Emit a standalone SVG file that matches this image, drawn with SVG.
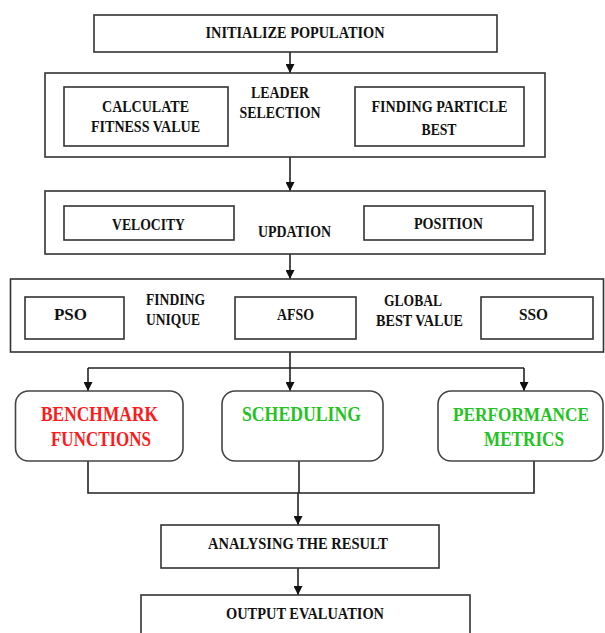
<svg xmlns="http://www.w3.org/2000/svg" width="605" height="633" viewBox="0 0 605 633">
<style>
.box{fill:#fff;stroke:#333;stroke-width:1.6}
.rbox{fill:#fff;stroke:#444;stroke-width:1.6}
.t{font-family:"Liberation Serif","Times New Roman",serif;font-weight:bold;font-size:16px;fill:#111;text-anchor:middle}
.ts{font-family:"Liberation Serif","Times New Roman",serif;font-weight:bold;font-size:16px;fill:#111;text-anchor:start}
.red{font-family:"Liberation Serif","Times New Roman",serif;font-weight:bold;font-size:20px;fill:#ff1a1a;text-anchor:middle}
.grn{font-family:"Liberation Serif","Times New Roman",serif;font-weight:bold;font-size:20px;fill:#22c422;text-anchor:middle}
.ln{fill:none;stroke:#222;stroke-width:1.6}
</style>
<defs>
<marker id="ah" viewBox="0 0 10 10" refX="10" refY="5" markerWidth="9" markerHeight="9" markerUnits="userSpaceOnUse" orient="auto">
<path d="M0,0 L10,5 L0,10 Z" fill="#111"/>
</marker>
</defs>
<rect width="605" height="633" fill="#fff"/>

<g id="connectors">
<line class="ln" x1="290" y1="52" x2="290" y2="73" marker-end="url(#ah)"/>
<line class="ln" x1="290" y1="157" x2="290" y2="191" marker-end="url(#ah)"/>
<line class="ln" x1="290" y1="254" x2="290" y2="279" marker-end="url(#ah)"/>
<polyline class="ln" points="290,352 290,368"/>
<polyline class="ln" points="88,368 524,368"/>
<line class="ln" x1="88" y1="368" x2="88" y2="391" marker-end="url(#ah)"/>
<line class="ln" x1="290" y1="368" x2="290" y2="391" marker-end="url(#ah)"/>
<line class="ln" x1="524" y1="368" x2="524" y2="391" marker-end="url(#ah)"/>
<polyline class="ln" points="88,461 88,493 534,493 534,461"/>
<line class="ln" x1="299" y1="461" x2="299" y2="493"/>
<line class="ln" x1="298" y1="493" x2="298" y2="525" marker-end="url(#ah)"/>
<line class="ln" x1="298" y1="568" x2="298" y2="595" marker-end="url(#ah)"/>
</g>

<g id="init">
<rect class="box" x="94" y="15" width="403" height="37"/>
<text class="t" x="295" y="38" textLength="179" lengthAdjust="spacingAndGlyphs">INITIALIZE POPULATION</text>
</g>

<g id="leader">
<rect class="box" x="45" y="73" width="500" height="84"/>
<text class="t" x="280" y="98" textLength="58" lengthAdjust="spacingAndGlyphs">LEADER</text>
<text class="t" x="280" y="118" textLength="81" lengthAdjust="spacingAndGlyphs">SELECTION</text>
</g>
<g id="fitness">
<rect class="box" x="64" y="87" width="164" height="59"/>
<text class="t" x="145.5" y="112" textLength="87" lengthAdjust="spacingAndGlyphs">CALCULATE</text>
<text class="t" x="145.5" y="132" textLength="109" lengthAdjust="spacingAndGlyphs">FITNESS VALUE</text>
</g>
<g id="pbest">
<rect class="box" x="355" y="87" width="169" height="59"/>
<text class="t" x="439.5" y="112" textLength="136" lengthAdjust="spacingAndGlyphs">FINDING PARTICLE</text>
<text class="t" x="439" y="134.5" textLength="35" lengthAdjust="spacingAndGlyphs">BEST</text>
</g>

<g id="updation">
<rect class="box" x="45" y="191" width="500" height="63"/>
<text class="t" x="294.5" y="236.5" textLength="73" lengthAdjust="spacingAndGlyphs">UPDATION</text>
</g>
<g id="velocity">
<rect class="box" x="64" y="206" width="170" height="34"/>
<text class="t" x="148.5" y="230" textLength="73" lengthAdjust="spacingAndGlyphs">VELOCITY</text>
</g>
<g id="position">
<rect class="box" x="364" y="206" width="169" height="34"/>
<text class="t" x="448.5" y="229" textLength="69" lengthAdjust="spacingAndGlyphs">POSITION</text>
</g>

<g id="gbest">
<rect class="box" x="10.5" y="279" width="593" height="73"/>
<text class="ts" x="146" y="305" textLength="59" lengthAdjust="spacingAndGlyphs">FINDING</text>
<text class="ts" x="146" y="325" textLength="54" lengthAdjust="spacingAndGlyphs">UNIQUE</text>
<text class="ts" x="384" y="306" textLength="58" lengthAdjust="spacingAndGlyphs">GLOBAL</text>
<text class="ts" x="376" y="326" textLength="87" lengthAdjust="spacingAndGlyphs">BEST VALUE</text>
</g>
<g id="pso">
<rect class="box" x="25" y="297" width="99" height="42"/>
<text class="t" x="70.5" y="320" textLength="33" lengthAdjust="spacingAndGlyphs">PSO</text>
</g>
<g id="afso">
<rect class="box" x="235" y="297" width="121" height="42"/>
<text class="t" x="295.5" y="320" textLength="37" lengthAdjust="spacingAndGlyphs">AFSO</text>
</g>
<g id="sso">
<rect class="box" x="481" y="297" width="112" height="42"/>
<text class="t" x="533.5" y="320" textLength="29" lengthAdjust="spacingAndGlyphs">SSO</text>
</g>

<g id="benchmark">
<rect class="rbox" x="15.5" y="391" width="167.5" height="70" rx="13"/>
<text class="red" x="99.5" y="421" textLength="117" lengthAdjust="spacingAndGlyphs">BENCHMARK</text>
<text class="red" x="101" y="446" textLength="100" lengthAdjust="spacingAndGlyphs">FUNCTIONS</text>
</g>
<g id="scheduling">
<rect class="rbox" x="222" y="391" width="161" height="70" rx="13"/>
<text class="grn" x="301.5" y="421" textLength="119" lengthAdjust="spacingAndGlyphs">SCHEDULING</text>
</g>
<g id="metrics">
<rect class="rbox" x="438" y="391" width="165" height="70" rx="13"/>
<text class="grn" x="521" y="421" textLength="136" lengthAdjust="spacingAndGlyphs" style="font-size:18px">PERFORMANCE</text>
<text class="grn" x="524" y="446" textLength="80" lengthAdjust="spacingAndGlyphs">METRICS</text>
</g>

<g id="analysing">
<rect class="box" x="161" y="525" width="278" height="43"/>
<text class="t" x="298" y="549" textLength="180" lengthAdjust="spacingAndGlyphs">ANALYSING THE RESULT</text>
</g>
<g id="output">
<rect class="box" x="141" y="595" width="329" height="50"/>
<text class="t" x="305" y="619" textLength="158" lengthAdjust="spacingAndGlyphs">OUTPUT EVALUATION</text>
</g>
</svg>
